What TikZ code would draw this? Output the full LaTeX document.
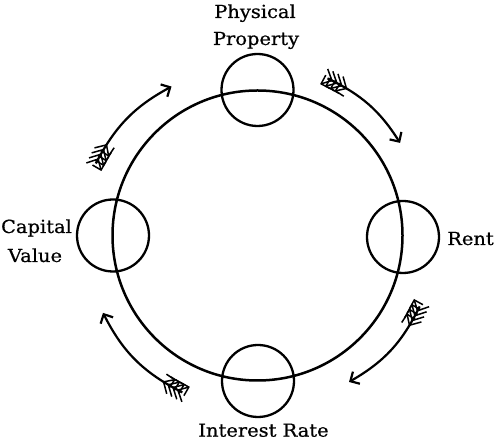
\documentclass[tikz,border=0pt]{standalone}
\usepackage{fontspec}
\setmainfont[FakeStretch=1.08,FakeBold=0.6]{DejaVu Serif}
\usetikzlibrary{arrows.meta,decorations.markings,calc}
\begin{document}
\begin{tikzpicture}[x=1pt,y=1pt,
  bigring/.style={line width=2.5pt},
  smallring/.style={draw,circle,line width=2.3pt,minimum size=72pt,inner sep=0pt},
  lbl/.style={anchor=base,inner sep=0pt,font=\fontsize{18}{22}\selectfont},
  fletch/.style={line width=1.5pt},
  flowarrow/.style={line width=2.2pt,-{Straight Barb[length=7pt,width=14pt]},
    postaction={decorate,decoration={markings,
      mark=at position 5pt with {\draw[fletch] (-9pt,8.5pt) -- (0,0) -- (-9pt,-8.5pt);},
      mark=at position 10.5pt with {\draw[fletch] (-9pt,8.5pt) -- (0,0) -- (-9pt,-8.5pt);},
      mark=at position 16pt with {\draw[fletch] (-9pt,8.5pt) -- (0,0) -- (-9pt,-8.5pt);},
      mark=at position 21.5pt with {\draw[fletch] (-9pt,8.5pt) -- (0,0) -- (-9pt,-8.5pt);}}}}]
\useasboundingbox (0,0) rectangle (500,446);
\coordinate (C) at (257.5,210.5);
\draw[bigring] (C) circle[radius=145];
\node[smallring] (phys) at (257.5,356) {};
\node[smallring] (int) at (258,65) {};
\node[smallring] (cap) at (113,210.5) {};
\node[smallring] (rent) at (403,209) {};
\node[lbl] (t1) at (255,428) {Physical};
\node[lbl] (t2) at (256,401) {Property};
\node[lbl] (t3) at (36.5,213) {Capital};
\node[lbl] (t4) at (35,184) {Value};
\node[lbl] (t5) at (470.5,201) {Rent};
\node[lbl] (t6) at (263.5,9.3) {Interest Rate};
\coordinate (a1) at ($(C)+(66:172)$);
\coordinate (b1) at ($(C)+(33:170)$);
\coordinate (a2) at ($(C)+(156:177)$);
\coordinate (b2) at ($(C)+(120:172)$);
\coordinate (a3) at ($(C)+(-23.6:177)$);
\coordinate (b3) at ($(C)+(-58:172.7)$);
\coordinate (a4) at ($(C)+(244.4:174)$);
\coordinate (b4) at ($(C)+(206.6:172.8)$);
\draw[flowarrow] (a1) to[bend left=16] (b1);
\draw[flowarrow] (a2) to[bend left=17] (b2);
\draw[flowarrow] (a3) to[bend left=17] (b3);
\draw[flowarrow] (a4) to[bend left=18] (b4);
\end{tikzpicture}
\end{document}
